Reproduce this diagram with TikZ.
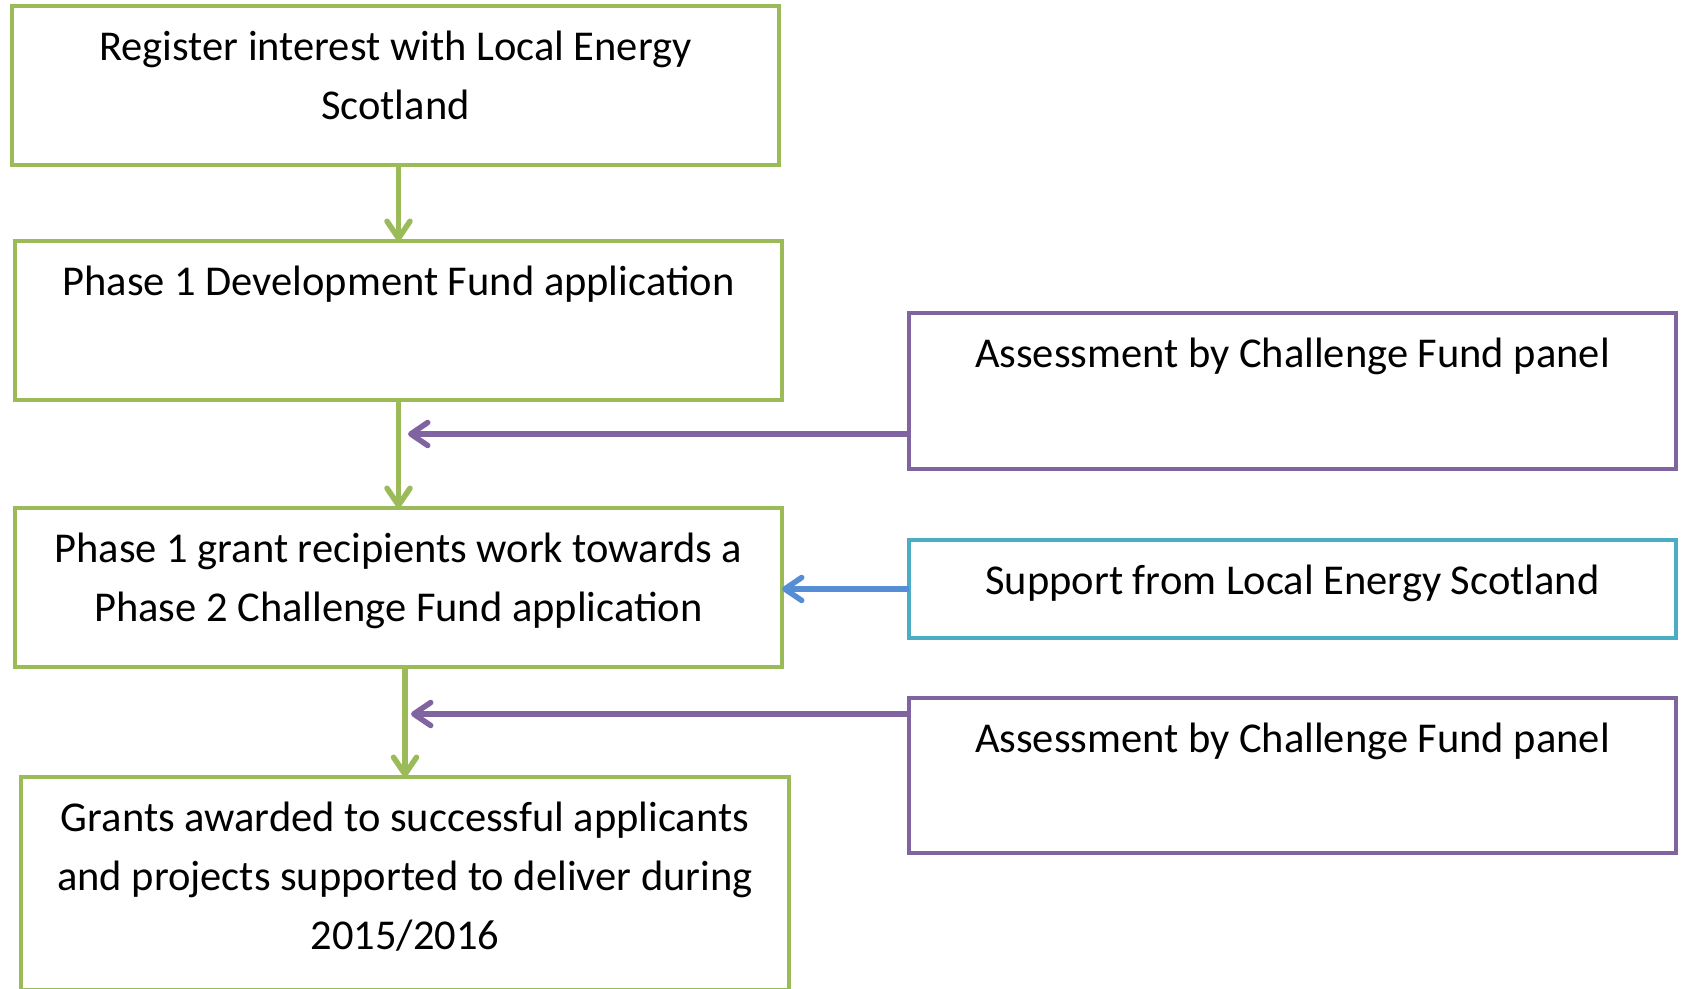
\documentclass[tikz,border=0pt]{standalone}
\usepackage{fontspec}
\setmainfont{Carlito}
\usetikzlibrary{arrows.meta}
\newcommand{\boxtext}[3]{\parbox[c][#2][t]{#1}{\centering\rule{0pt}{54pt}#3}}
\begin{document}
\begin{tikzpicture}[x = 1pt, y = -1pt,
  stage/.style = {draw = MyGreen, line width = 4.5pt, inner sep = 0pt, outer sep = 0pt,
    anchor = north west, font = \fontsize{42.5}{59}\selectfont},
  panel/.style = {stage, draw = MyPurple},
  helpbox/.style = {stage, draw = MyTeal},
  flow/.style = {draw = MyGreen, line width = 5.5pt,
    -{Straight Barb[length = 17pt, width = 23pt, round]}},
  panelarrow/.style = {flow, draw = MyPurple},
  helparrow/.style = {flow, draw = MyBlue}]
\definecolor{MyGreen}{RGB}{155, 187, 89}
\definecolor{MyPurple}{RGB}{128, 100, 162}
\definecolor{MyTeal}{RGB}{75, 172, 198}
\definecolor{MyBlue}{RGB}{85, 142, 213}
\useasboundingbox (0, 0) rectangle (1683, 988);
\clip (0, 0) rectangle (1683, 988);
% left column
\node[stage] (register) at (12, 6) {\boxtext{767pt}{159pt}{Register interest with Local Energy\\ Scotland}};
\node[stage] (phaseone) at (15, 241) {\boxtext{767pt}{159pt}{Phase 1 Development Fund application}};
\node[stage] (work) at (15, 508) {\boxtext{767pt}{159pt}{Phase 1 grant recipients work towards a\\ Phase 2 Challenge Fund application}};
\node[stage] (grants) at (21, 777) {\boxtext{768pt}{213pt}{Grants awarded to successful applicants\\ and projects supported to deliver during\\ 2015/2016}};
% right column
\node[panel] (panel1) at (909, 313) {\boxtext{767pt}{156pt}{Assessment by Challenge Fund panel}};
\node[helpbox] (support) at (909, 540) {\boxtext{767pt}{98pt}{Support from Local Energy Scotland}};
\node[panel] (panel2) at (909, 698) {\boxtext{767pt}{155pt}{Assessment by Challenge Fund panel}};
% arrows
\draw[flow] (phaseone.north |- register.south) -- (phaseone.north);
\draw[flow] (phaseone.south) -- (work.north);
\draw[flow] (grants.north |- work.south) -- (grants.north);
\coordinate (tip1) at (408, 434);
\coordinate (tip2) at (411, 714);
\foreach \from/\tip in {panel1/tip1, panel2/tip2}{
\draw[panelarrow] (\from.west |- \tip) -- (\tip);
}
\draw[helparrow] (support.west) -- (support.west -| work.east);
\end{tikzpicture}
\end{document}
